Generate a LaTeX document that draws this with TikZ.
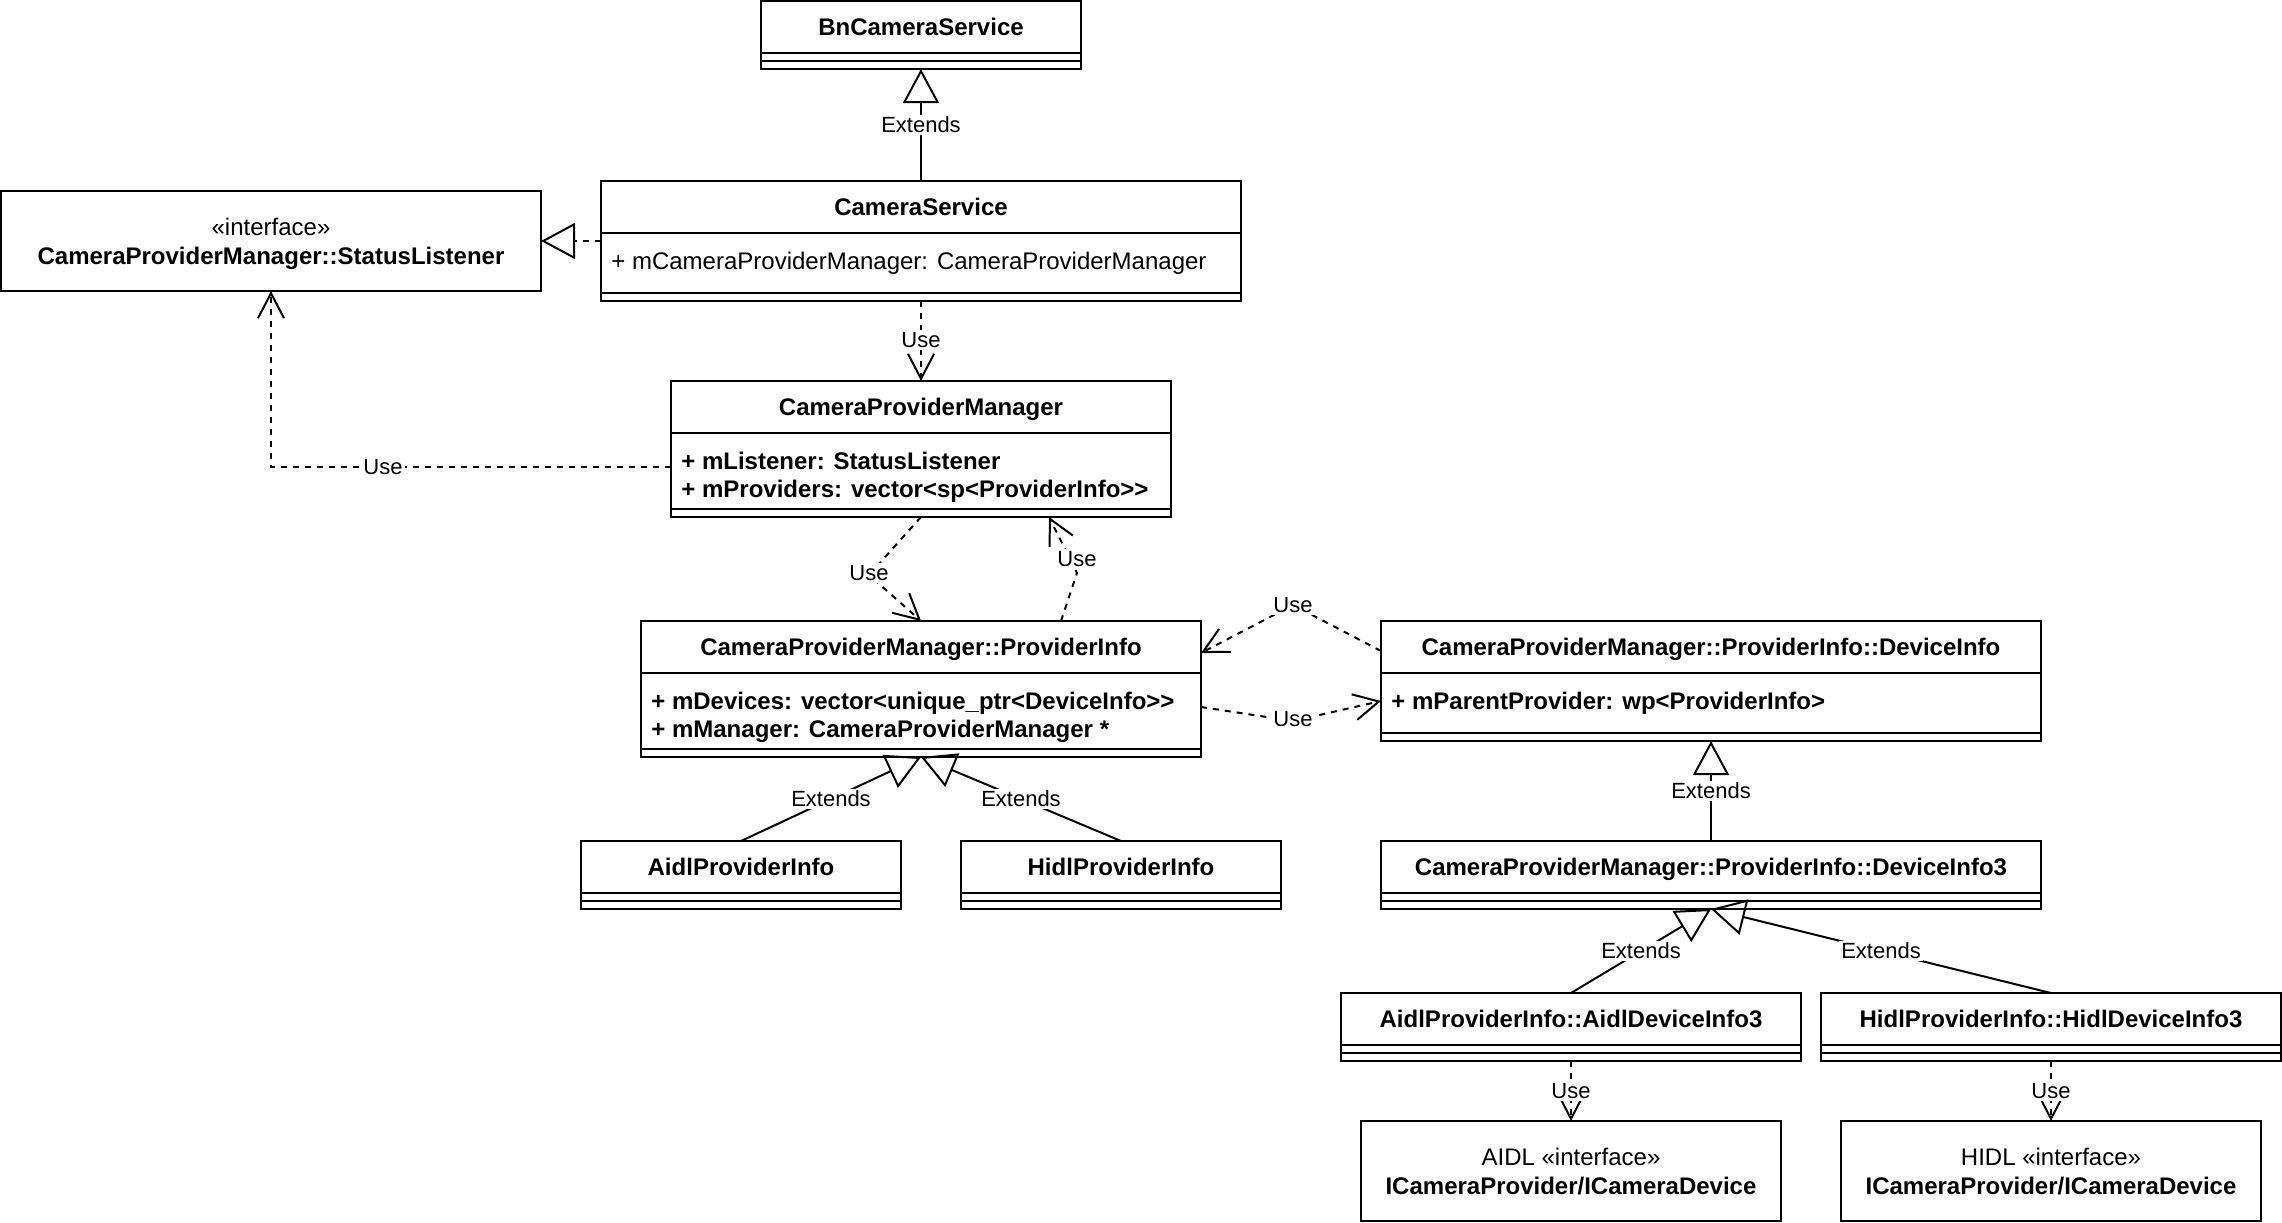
\documentclass[tikz,border=0pt]{standalone}
\usepackage{fontspec}
\setmainfont{Liberation Sans}
\usetikzlibrary{arrows.meta,calc}
\newcommand{\ggt}{>\kern0pt>}
\tikzset{
  ln/.style={line width=1pt},
  box/.style={draw, line width=1pt, rectangle, inner sep=0pt, outer sep=0pt, fill=white},
  ttl/.style={font=\fontsize{12}{14}\selectfont\bfseries, inner sep=0pt, text height=8.3pt, text depth=0pt},
  txt/.style={font=\fontsize{12}{14}\selectfont, inner sep=0pt, text height=8.3pt, text depth=0pt},
  attr/.style={txt, anchor=west},
  battr/.style={ttl, anchor=west},
  lbl/.style={font=\fontsize{11}{13}\selectfont, fill=white, inner sep=1pt, text height=7.6pt, text depth=0pt},
  inh/.style={line width=1pt, -{Triangle[open, length=17pt, width=18pt]}},
  real/.style={inh, dash pattern=on 3pt off 3pt},
  use/.style={line width=1pt, dash pattern=on 3pt off 3pt, -{Straight Barb[length=12.5pt, width=13pt]}},
}
\newcommand{\umlcls}[7]{%
  \node[box, minimum width=#4pt, minimum height=#5pt, anchor=north west] (#1) at (#2,#3) {};
  \node[ttl] (#1-title) at ({#2+#4/2},{#3+13}) {#6};
  \foreach \o in {#7} {\draw[ln] (#2,{#3+\o}) -- ({#2+#4},{#3+\o});}
}
\begin{document}
\begin{tikzpicture}[x=1pt,y=-1pt]
\useasboundingbox (0,0) rectangle (1141,611);
\begin{scope}[shift={(0.5,0.5)}]
% classes
\umlcls{bn}{380}{0}{160}{34}{BnCameraService}{26,30}
\umlcls{cs}{300}{90}{320}{60}{CameraService}{26,56}
\node[attr] (cs-a1) at (305,130) {+ mCameraProviderManager: CameraProviderManager};
\node[box, minimum width=270pt, minimum height=50pt, anchor=north west] (sl) at (0,95) {};
\node[txt] (sl-a) at (135,113) {«interface»};
\node[ttl] (sl-b) at (135,127.7) {CameraProviderManager::StatusListener};
\umlcls{cpm}{335}{190}{250}{68}{CameraProviderManager}{26,64}
\node[battr] (cpm-a1) at (340,230) {+ mListener: StatusListener};
\node[battr] (cpm-a2) at (340,244) {+ mProviders: vector<sp<ProviderInfo\ggt};
\umlcls{pi}{320}{310}{280}{68}{CameraProviderManager::ProviderInfo}{26,64}
\node[battr] (pi-a1) at (325,350) {+ mDevices: vector<unique\_ptr<DeviceInfo\ggt};
\node[battr] (pi-a2) at (325,364) {+ mManager: CameraProviderManager *};
\umlcls{di}{690}{310}{330}{60}{CameraProviderManager::ProviderInfo::DeviceInfo}{26,56}
\node[battr] (di-a1) at (695,350) {+ mParentProvider: wp<ProviderInfo>};
\umlcls{api}{290}{420}{160}{34}{AidlProviderInfo}{26,30}
\umlcls{hpi}{480}{420}{160}{34}{HidlProviderInfo}{26,30}
\umlcls{di3}{690}{420}{330}{34}{CameraProviderManager::ProviderInfo::DeviceInfo3}{26,30}
\umlcls{adi3}{670}{496}{230}{34}{AidlProviderInfo::AidlDeviceInfo3}{26,30}
\umlcls{hdi3}{910}{496}{230}{34}{HidlProviderInfo::HidlDeviceInfo3}{26,30}
\node[box, minimum width=210pt, minimum height=50pt, anchor=north west] (aif) at (680,560) {};
\node[txt] (aif-a) at (785,578) {AIDL «interface»};
\node[ttl] (aif-b) at (785,592.5) {ICameraProvider/ICameraDevice};
\node[box, minimum width=210pt, minimum height=50pt, anchor=north west] (hif) at (920,560) {};
\node[txt] (hif-a) at (1025,578) {HIDL «interface»};
\node[ttl] (hif-b) at (1025,592.5) {ICameraProvider/ICameraDevice};
% connectors
\draw[inh] (cs.north) -- (bn.south);
\node[lbl] (l1) at (460,62) {Extends};
\draw[real] (cs.west) -- (sl.east);
\draw[use] (cs.south) -- (cpm.north);
\node[lbl] (l2) at (460,169.5) {Use};
\draw[use] ($(cpm.west)+(0,9)$) -| (sl.south);
\node[lbl] (l3) at (191,233) {Use};
\coordinate (w5) at (434,287);
\draw[use] (cpm.south) -- (w5) -- (pi.north);
\node[lbl] (l4) at (434,286) {Use};
\coordinate (w6) at (538,286);
\draw[use] ($(pi.north)+(70,0)$) -- (w6) -- ($(cpm.south)+(64,0)$);
\node[lbl] (l5) at (538,279) {Use};
\coordinate (w7) at (646,302);
\draw[use] ($(di.north west)+(0,15)$) -- (w7) -- ($(pi.north east)+(0,16)$);
\node[lbl] (l6) at (646,302) {Use};
\coordinate (w8) at (646,360);
\draw[use] ($(pi.north east)+(0,43)$) -- (w8) -- ($(di.north west)+(0,40)$);
\node[lbl] (l7) at (646,359) {Use};
\draw[inh] (api.north) -- (pi.south);
\node[lbl] (l8) at (415,399) {Extends};
\draw[inh] (hpi.north) -- (pi.south);
\node[lbl] (l9) at (510,399) {Extends};
\draw[inh] (di3.north) -- (di.south);
\node[lbl] (l10) at (855,395) {Extends};
\draw[inh] (adi3.north) -- (di3.south);
\node[lbl] (l11) at (820,475) {Extends};
\draw[inh] (hdi3.north) -- (di3.south);
\node[lbl] (l12) at (940,475) {Extends};
\draw[use] (adi3.south) -- (aif.north);
\node[lbl] (l13) at (785,545) {Use};
\draw[use] (hdi3.south) -- (hif.north);
\node[lbl] (l14) at (1025,545) {Use};
\end{scope}
\end{tikzpicture}
\end{document}
